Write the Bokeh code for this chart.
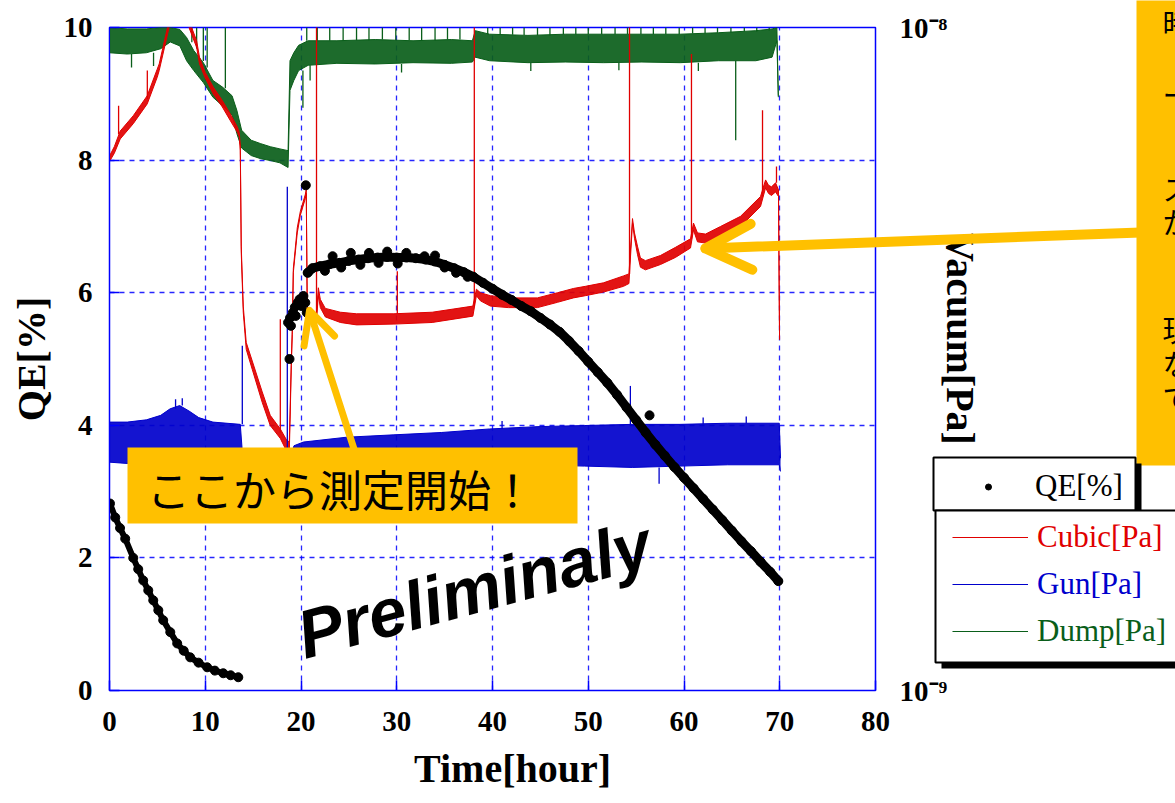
from bokeh.plotting import figure
from bokeh.models import (Range1d, LogScale, LogAxis, FixedTicker, CustomJSTickFormatter, Label,
                          BoxAnnotation, Arrow, OpenHead, Legend, LegendItem, GridBox)
from bokeh.embed import file_html
from bokeh.resources import INLINE

# ---------------- data ----------------
x_ticks = [0, 10, 20, 30, 40, 50, 60, 70, 80]
qe_ticks = [0, 2, 4, 6, 8, 10]
vac_ticks = [1e-9, 1e-8]
vac_tick_labels = ["10\u207b\u2079", "10\u207b\u2078"]

# QE [%]
qe_early_t = [0.05, 0.6, 1.1, 1.64, 2.48, 3.0, 3.52, 4.05, 4.57, 5.1, 5.61, 6.35, 7.07, 7.75, 8.43,
              9.3, 10.2, 11.0, 11.88, 12.65, 13.45]
qe_early_v = [2.82, 2.61, 2.45, 2.29, 2.0, 1.83, 1.66, 1.51, 1.36, 1.21, 1.06, 0.88, 0.71, 0.6, 0.5,
              0.42, 0.35, 0.3, 0.26, 0.23, 0.2]
qe_cluster_t = [18.65, 18.85, 18.95, 19.15, 19.35, 19.45, 19.65, 19.85, 20.05, 20.25, 20.45, 20.6,
                18.8, 20.5, 23.3, 25.2, 27.1, 29.0, 31.0, 32.9, 26.2, 30.1, 35.0, 28.1, 24.2, 56.4,
                34.0, 36.2, 37.4, 22.5]
qe_cluster_v = [5.55, 5.62, 5.5, 5.7, 5.78, 5.65, 5.85, 5.9, 5.8, 5.95, 5.85, 5.7,
                5.0, 7.62, 6.55, 6.6, 6.6, 6.62, 6.6, 6.55, 6.42, 6.44, 6.38, 6.45, 6.38, 4.15,
                6.56, 6.3, 6.24, 6.33]
qe_main_t = [20.7, 21.2, 22, 23, 24, 25, 26, 27, 28, 29, 30, 31, 32, 33, 34, 35, 36, 37, 38, 39,
             40, 41, 42, 43, 44, 45, 46, 47, 48, 49, 50, 51, 52, 53, 54, 55, 56, 57, 58, 59,
             60, 61, 62, 63, 64, 65, 66, 67, 68, 69, 69.85]
qe_main_v = [6.3, 6.37, 6.4, 6.43, 6.45, 6.48, 6.5, 6.52, 6.53, 6.54, 6.53, 6.53, 6.52, 6.5, 6.47,
             6.42, 6.37, 6.31, 6.24, 6.15, 6.06, 5.97, 5.89, 5.8, 5.72, 5.62, 5.52, 5.41, 5.27,
             5.12, 4.96, 4.8, 4.64, 4.46, 4.27, 4.08, 3.89, 3.71, 3.54, 3.37, 3.21, 3.05, 2.89,
             2.73, 2.57, 2.41, 2.25, 2.1, 1.94, 1.79, 1.65]

# Vacuum values in units of 1e-9 Pa (noise band: low / high edge)
dump_t = [0, 1.85, 3.85, 5.35, 6.35, 7.35, 8.05, 8.8, 9.8, 10.8, 11.8, 12.8, 13.3, 13.8, 14.8, 15.8,
          16.8, 17.8, 18.65, 18.85, 19.25, 19.75, 20.75, 23.75, 27.75, 31.7, 35.7, 37.9, 38.2, 39.7,
          43.7, 47.6, 51.6, 55.6, 59.6, 63.6, 67.5, 69.2, 69.7, 69.85]
dump_lo = [9.16, 9.12, 9.16, 9.29, 9.51, 9.38, 8.91, 8.61, 8.26, 7.85, 7.62, 7.38, 6.92, 6.58, 6.41,
           6.34, 6.30, 6.25, 6.15, 8.04, 8.32, 8.61, 8.77, 8.83, 8.81, 8.85, 8.83, 8.87, 9.02, 8.91,
           8.85, 8.87, 8.85, 8.87, 8.85, 8.91, 8.91, 9.02, 9.55, 7.85]
dump_hi = [10.0, 9.95, 9.95, 10.0, 10.0, 9.93, 9.66, 9.23, 8.85, 8.32, 8.13, 7.89, 7.50, 7.00, 6.76,
           6.68, 6.61, 6.56, 6.52, 8.91, 9.16, 9.40, 9.55, 9.55, 9.59, 9.55, 9.59, 9.55, 9.89, 9.77,
           9.73, 9.77, 9.77, 9.77, 9.77, 9.82, 9.89, 9.95, 10.0, 7.89]
dump_spike_t = [8.6, 9.1, 9.8, 10.2, 12.1, 20.6, 21.7, 23.0, 24.4, 25.8, 27.1, 28.5, 29.9, 31.3, 32.6,
                34.0, 35.3, 36.6, 39.5, 40.8, 42.1, 43.3, 44.7, 46.0, 47.4, 48.7, 50.0, 51.4, 52.8,
                54.1, 55.5, 56.8, 58.1, 59.5, 60.9, 62.2, 63.5, 64.9, 66.3, 67.6, 68.9,
                20.2, 20.95, 65.4, 2.3, 4.6, 30.5, 44.0, 53.2, 61.5]
dump_spike_from = [9.5, 9.3, 8.9, 8.7, 8.1, 9.55, 9.55, 9.55, 9.55, 9.57, 9.57, 9.59, 9.57, 9.57,
                   9.57, 9.57, 9.59, 9.59, 9.77, 9.77, 9.75, 9.74, 9.73, 9.73, 9.76, 9.76, 9.77,
                   9.77, 9.77, 9.77, 9.77, 9.77, 9.77, 9.77, 9.79, 9.79, 9.82, 9.82, 9.86, 9.86, 9.9,
                   8.61, 8.77, 8.91, 9.12, 9.16, 8.81, 8.85, 8.85, 8.85]
dump_spike_to = [10.0, 10.0, 10.0, 10.0, 10.0, 10.0, 10.0, 10.0, 10.0, 10.0, 10.0, 10.0, 10.0, 10.0,
                 10.0, 10.0, 10.0, 10.0, 10.0, 10.0, 10.0, 10.0, 10.0, 10.0, 10.0, 10.0, 10.0,
                 10.0, 10.0, 10.0, 10.0, 10.0, 10.0, 10.0, 10.0, 10.0, 10.0, 10.0, 10.0, 10.0, 10.0,
                 7.57, 8.32, 6.76, 8.7, 8.75, 8.55, 8.6, 8.62, 8.6]

cubic_t = [0.0, 0.5, 1.12, 2.48, 3.94, 4.98, 5.19, 7.0, 9.1, 9.4, 10.0, 10.84, 11.78, 12.61, 13.35,
           13.55, 13.66, 13.76, 13.97, 14.28, 14.91, 15.95, 16.79, 17.84, 18.47, 18.78, 18.99, 19.09,
           19.2, 19.61, 19.93, 20.45, 20.55, 20.66, 21.6, 21.81, 22.02, 22.54, 24.11, 25.8, 29.7,
           33.7, 37.95, 38.32, 38.74, 39.78, 41.66, 44.69, 46.78, 48.45, 49.7, 51.59, 53.68, 54.25,
           54.62, 54.83, 55.14, 55.45, 55.97, 57.54, 59.11, 60.68, 60.99, 61.41, 62.25, 63.81, 65.9,
           67.99, 68.52, 68.83, 69.14, 69.56, 69.87, 69.98]
cubic_lo = [6.28, 6.46, 6.79, 7.16, 7.67, 8.41, 8.61, 11.2, 9.33, 8.81, 8.39, 7.94, 7.59, 7.24, 6.95,
            6.84, 6.53, 4.57, 3.72, 3.27, 3.05, 2.72, 2.51, 2.40, 2.30, 2.29, 3.09, 3.44,
            4.27, 4.90, 5.21, 5.52, 5.62, 3.59, 3.59, 3.94, 3.78, 3.66, 3.59, 3.56, 3.57,
            3.59, 3.67, 3.94, 3.87, 3.80, 3.78, 3.78, 3.85, 3.91, 3.94, 3.99, 4.07, 4.11,
            5.07, 4.81, 4.55, 4.35, 4.31, 4.39, 4.50, 4.65, 4.95, 4.75, 4.73, 4.85, 5.01,
            5.37, 5.73, 5.62, 5.58, 5.65, 5.56, 3.38]
cubic_hi = [6.40, 6.61, 6.98, 7.36, 7.89, 8.65, 8.81, 11.5, 9.55, 9.02, 8.55, 8.13, 7.76, 7.41, 7.08,
            6.95, 6.64, 4.68, 3.80, 3.35, 3.14, 2.82, 2.60, 2.48, 2.39, 2.37, 3.16, 3.51,
            4.33, 4.99, 5.28, 5.60, 5.70, 3.65, 3.67, 4.05, 3.89, 3.77, 3.72, 3.70, 3.70,
            3.72, 3.80, 4.03, 3.98, 3.94, 3.91, 3.91, 3.98, 4.04, 4.07, 4.12, 4.22, 4.25,
            5.15, 4.90, 4.68, 4.49, 4.45, 4.53, 4.66, 4.80, 5.07, 4.90, 4.88, 5.01, 5.19,
            5.56, 5.89, 5.78, 5.75, 5.83, 5.69, 3.39]
cubic_spike_t = [0.95, 3.95, 17.84, 21.62, 30.06, 38.1, 54.31, 60.78, 68.2, 69.66]
cubic_spike_from = [6.9, 7.8, 2.45, 3.67, 3.70, 3.80, 4.25, 4.80, 5.56, 5.83]
cubic_spike_to = [7.62, 8.61, 3.63, 11.0, 4.29, 11.0, 11.0, 9.12, 7.50, 6.17]

gun_t = [0, 1.85, 3.85, 5.35, 6.33, 7.33, 8.3, 9.32, 10.8, 13.66, 13.97, 18.6, 19.27, 20.26, 24.75,
         29.7, 34.7, 39.68, 44.65, 49.63, 54.6, 59.58, 64.56, 69.95, 70.08]
gun_lo = [2.21, 2.20, 2.21, 2.24, 2.26, 2.28, 2.26, 2.24, 2.21, 2.21, 2.00, 2.00, 2.19, 2.21, 2.23,
          2.23, 2.22, 2.20, 2.19, 2.18, 2.17, 2.18, 2.19, 2.19, 2.14]
gun_hi = [2.54, 2.54, 2.56, 2.60, 2.66, 2.69, 2.64, 2.58, 2.54, 2.52, 2.19, 2.19, 2.34, 2.37, 2.41,
          2.43, 2.45, 2.48, 2.50, 2.51, 2.52, 2.52, 2.53, 2.53, 2.24]
gun_spike_t = [13.87, 18.57, 54.4, 48.0, 57.4, 6.9, 7.6, 41.0, 62.0, 66.5]
gun_spike_from = [2.52, 2.19, 2.52, 2.18, 2.17, 2.66, 2.69, 2.48, 2.52, 2.53]
gun_spike_to = [3.31, 5.75, 2.88, 2.07, 2.05, 2.75, 2.76, 2.55, 2.58, 2.59]

# legend / callout texts
legend_labels = ["QE[%]", "Cubic[Pa]", "Gun[Pa]", "Dump[Pa]"]
start_note = "ここから測定開始！"
side_note_chars = ["時", "ー", "ス", "か", "現", "な", "で"]

NANO = 1e-9


def pa(vals):
    return [v * NANO for v in vals]


RED = "#E00000"
BLUE = "#0000CC"
GREEN = "#0A5E1A"
ORANGE = "#FFC000"
FRAMEBLUE = "#0000FF"
SERIF = "Liberation Serif"
CJK = "Noto Sans CJK JP"
NBSP = "\u00a0"
W, H = 1175, 803

p = figure(frame_width=766, frame_height=663, min_border_left=109, min_border_right=300,
           min_border_top=27, min_border_bottom=113, x_range=Range1d(0, 80), y_range=Range1d(0, 10),
           output_backend="svg", toolbar_location=None, border_fill_color="white",
           background_fill_color="white", outline_line_color=FRAMEBLUE, outline_line_width=1.5)
p.frame_align = False
p.extra_y_ranges = {"vac": Range1d(1e-9, 1e-8)}
p.extra_y_scales = {"vac": LogScale()}

# grids
for g, tk in ((p.xgrid[0], x_ticks), (p.ygrid[0], qe_ticks)):
    g.ticker = FixedTicker(ticks=tk)
    g.grid_line_color = FRAMEBLUE
    g.grid_line_dash = "5 5"
    g.grid_line_width = 1.3
    g.grid_line_alpha = 0.85

# axes
xa = p.xaxis[0]
ya = p.yaxis[0]
xa.ticker = FixedTicker(ticks=x_ticks)
ya.ticker = FixedTicker(ticks=qe_ticks)
xa.axis_label = NBSP * 4 + "Time[hour]"
ya.axis_label = "QE[%]"
for ax in (xa, ya):
    ax.axis_line_color = FRAMEBLUE
    ax.major_tick_line_color = FRAMEBLUE
    ax.major_tick_line_width = 1.5
    ax.major_tick_in = 10
    ax.major_tick_out = 0
    ax.minor_tick_line_color = None
    ax.major_label_text_font = SERIF
    ax.major_label_text_font_style = "bold"
    ax.major_label_text_font_size = "29px"
    ax.major_label_text_color = "black"
    ax.axis_label_text_font = SERIF
    ax.axis_label_text_font_style = "bold"
    ax.axis_label_text_font_size = "40px"
    ax.axis_label_text_color = "black"
xa.major_label_standoff = 21
xa.axis_label_standoff = 12
ya.major_label_standoff = 17
ya.axis_label_standoff = 7

ra = LogAxis(y_range_name="vac", ticker=FixedTicker(ticks=vac_ticks),
             formatter=CustomJSTickFormatter(args=dict(vt=vac_ticks, vl=vac_tick_labels), code="""
                 for (let i = 0; i < vt.length; i++) {
                     if (Math.abs(Math.log10(vt[i]) - Math.log10(tick)) < 0.01) return vl[i];
                 }
                 return "";
             """))
ra.axis_label = "Vacuum[Pa]" + NBSP * 4
ra.axis_line_color = None
ra.major_tick_line_color = None
ra.minor_tick_line_color = None
ra.major_label_standoff = 18
ra.major_label_text_font = SERIF
ra.major_label_text_font_style = "bold"
ra.major_label_text_font_size = "29px"
ra.major_label_text_color = "black"
ra.axis_label_text_font = SERIF
ra.axis_label_text_font_style = "bold"
ra.axis_label_text_font_size = "40px"
ra.axis_label_text_color = "black"
ra.axis_label_standoff = -12
p.add_layout(ra, "right")


def vac_series(t, lo, hi, st, sf, sto, color, width=1.0):
    p.varea(x=t, y1=pa(lo), y2=pa(hi), y_range_name="vac", fill_color=color, fill_alpha=0.92)
    p.line(t, pa(hi), y_range_name="vac", line_color=color, line_width=width)
    p.line(t, pa(lo), y_range_name="vac", line_color=color, line_width=width)
    p.segment(x0=st, x1=st, y0=pa(sf), y1=pa(sto), y_range_name="vac", line_color=color, line_width=1.3)


vac_series(dump_t, dump_lo, dump_hi, dump_spike_t, dump_spike_from, dump_spike_to, GREEN)
vac_series(cubic_t, cubic_lo, cubic_hi, cubic_spike_t, cubic_spike_from, cubic_spike_to, RED, 1.0)
vac_series(gun_t, gun_lo, gun_hi, gun_spike_t, gun_spike_from, gun_spike_to, BLUE)

p.line(qe_early_t, qe_early_v, line_color="black", line_width=6, line_join="round", line_cap="round")
p.line(qe_main_t, qe_main_v, line_color="black", line_width=9, line_join="round", line_cap="round")
p.scatter(qe_early_t + qe_cluster_t + qe_main_t, qe_early_v + qe_cluster_v + qe_main_v,
          size=9, color="black")

# annotations inside the frame
p.add_layout(Label(x=20.8, y=0.27, text="Preliminaly", angle=0.262, text_font="Liberation Sans",
                   text_font_style="bold italic", text_font_size="68px", text_color="black"))
p.add_layout(BoxAnnotation(left=18, right=468, top=243, bottom=167, left_units="screen",
                           right_units="screen", top_units="screen", bottom_units="screen",
                           fill_color=ORANGE, fill_alpha=1, line_color=None))
p.add_layout(Label(x=231, y=203, x_units="screen", y_units="screen", text=start_note,
                   text_font=CJK, text_font_size="43px", text_color="black",
                   text_align="center", text_baseline="middle"))
p.add_layout(Arrow(end=OpenHead(size=32, line_color=ORANGE, line_width=7, line_cap="round",
                                line_join="round"),
                   x_start=245, y_start=240, x_end=200, y_end=380, start_units="screen",
                   end_units="screen", line_color=ORANGE, line_width=7, line_cap="round"))

# ---------------- overlay canvas (pixel coordinates, y downwards) for the items outside the frame ----------------
q = figure(width=W, height=H, x_range=Range1d(0, W), y_range=Range1d(H, 0), min_border=0,
           min_border_left=0, min_border_right=0, min_border_top=0, min_border_bottom=0,
           output_backend="svg", toolbar_location=None, x_axis_type=None, y_axis_type=None,
           outline_line_color=None, background_fill_alpha=0, border_fill_alpha=0)
q.frame_align = False

q.add_layout(BoxAnnotation(left=1136, right=1220, top=-20, bottom=465, fill_color=ORANGE, fill_alpha=1,
                           line_color=None))
for ch, py in zip(side_note_chars, [21, 93, 187, 220, 328, 362, 396]):
    q.add_layout(Label(x=1162, y=py, text=ch, text_font=CJK, text_font_size="29px", text_color="black",
                       text_baseline="middle", text_align="left"))
q.add_layout(Arrow(end=OpenHead(size=46, line_color=ORANGE, line_width=10, line_cap="round",
                                line_join="round"),
                   x_start=1140, y_start=232, x_end=705, y_end=248,
                   line_color=ORANGE, line_width=10, line_cap="round"))


def box(l, r, t, b, fill, line=None, lw=0):
    return BoxAnnotation(left=l, right=r, top=t, bottom=b, fill_color=fill, fill_alpha=1,
                         line_color=line, line_width=lw, line_alpha=1)


# legend key glyphs (styled like the plotted series; their own points lie outside the overlay view)
k_qe = q.scatter(x=[-100], y=[-100], size=6, color="black")
k_cubic = q.line(x=[-100, -90], y=[-100, -100], line_color=RED, line_width=1.2)
k_gun = q.line(x=[-100, -90], y=[-100, -100], line_color=BLUE, line_width=1.2)
k_dump = q.line(x=[-100, -90], y=[-100, -100], line_color=GREEN, line_width=1.2)


def one_legend(label, renderer, color, loc, gh=34, lh=34):
    return Legend(items=[LegendItem(label=label, renderers=[renderer], index=0)], location=loc,
                  orientation="vertical", border_line_color=None, background_fill_alpha=0,
                  label_text_font=SERIF, label_text_font_size="31px", label_text_color=color,
                  glyph_width=76, glyph_height=gh, label_height=lh, label_standoff=9,
                  padding=0, margin=0, spacing=0)


q.add_layout(box(939, 1141, 463, 516, "black"))
q.add_layout(box(933, 1135, 457, 510, "white", "black", 2))
q.add_layout(one_legend(legend_labels[0], k_qe, "black", (950, H - 504), gh=15))
q.add_layout(box(941, 1200, 516, 668, "black"))
q.add_layout(box(935, 1195, 510, 662, "white", "black", 2))
q.add_layout(one_legend(legend_labels[1], k_cubic, RED, (952, H - 555)))
q.add_layout(one_legend(legend_labels[2], k_gun, BLUE, (952, H - 602)))
q.add_layout(one_legend(legend_labels[3], k_dump, GREEN, (952, H - 649)))

layout = GridBox(children=[(p, 0, 0), (q, 0, 0)])
open("out.html", "w").write(file_html(layout, INLINE))
